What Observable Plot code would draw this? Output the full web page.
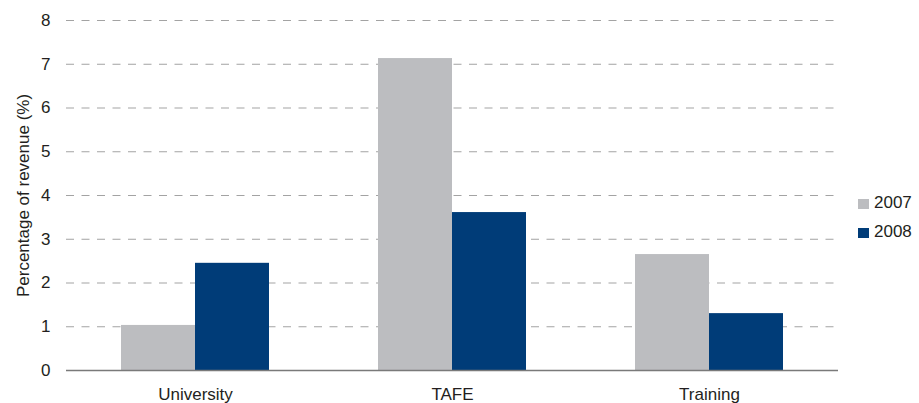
<!DOCTYPE html>
<html>
<head>
<meta charset="utf-8">
<script src="https://cdn.jsdelivr.net/npm/d3@7"></script>
<script src="https://cdn.jsdelivr.net/npm/@observablehq/plot@0.6"></script>
<style>
  html, body { margin: 0; padding: 0; background: #fff; }
  #chart { position: relative; width: 919px; height: 403px; font-family: "Liberation Sans", Arial, sans-serif; }
  #chart svg { display: block; }
  .key { position: absolute; left: 858px; font-size: 17px; line-height: 17px; color: #231f20; white-space: nowrap; }
  .key span.sw { position: absolute; left: 0; width: 11px; height: 10px; }
  .key span.lb { position: absolute; left: 16px; top: 0; }
</style>
</head>
<body>
<div id="chart"></div>
<script>
// Sector groups along the x axis
const sectors = ["University", "TAFE", "Training"];
// Years compared within each sector
const years = ["2007", "2008"];
// Percentage of revenue, one value per sector for each year
const values2007 = [1.03, 7.13, 2.65];
const values2008 = [2.45, 3.61, 1.30];
// Y axis ticks
const yTicks = [0, 1, 2, 3, 4, 5, 6, 7, 8];
const yGrid = [1, 2, 3, 4, 5, 6, 7, 8];

const rows2007 = sectors.map((s, i) => ({sector: s, year: years[0], value: values2007[i]}));
const rows2008 = sectors.map((s, i) => ({sector: s, year: years[1], value: values2008[i]}));

// Each sector band holds two side-by-side bars: the first year fills the
// left half of the band, the second year the right half.
const halfBand = 74;

const chart = Plot.plot({
  width: 919,
  height: 403,
  marginLeft: 66,
  marginRight: 81,
  marginTop: 20,
  marginBottom: 33,
  style: {fontFamily: "Liberation Sans, Arial, sans-serif", fontSize: "17px", color: "#231f20", background: "#fff"},
  x: {domain: sectors, paddingInner: 0.424, paddingOuter: 0.212, label: null},
  y: {domain: [0, 8]},
  color: {domain: years, range: ["#bcbdc0", "#003c78"]},
  marks: [
    Plot.gridY(yGrid, {stroke: "#a3a3a3", strokeOpacity: 1, strokeWidth: 1, strokeDasharray: "8,7.5"}),
    Plot.barY(rows2007, {x: "sector", y: "value", fill: "year", insetLeft: 0, insetRight: halfBand}),
    Plot.barY(rows2008, {x: "sector", y: "value", fill: "year", insetLeft: halfBand, insetRight: 0}),
    Plot.ruleY([0], {stroke: "#7a7a7a", strokeWidth: 1.5}),
    Plot.axisY(yTicks, {tickSize: 0, tickPadding: 16, label: "Percentage of revenue (%)", labelAnchor: "center", labelArrow: "none", labelOffset: 50, fontSize: 17}),
    Plot.axisX({tickSize: 0, tickPadding: 17, label: null, fontSize: 17})
  ]
});

const host = document.getElementById("chart");
host.appendChild(chart);

// Legend built from the plot's own color scale
const color = chart.scale("color");
color.domain.forEach((d, i) => {
  const row = document.createElement("div");
  row.className = "key";
  row.style.top = (194 + i * 29) + "px";
  const sw = document.createElement("span");
  sw.className = "sw";
  sw.style.top = "5px";
  sw.style.background = color.range[i];
  const lb = document.createElement("span");
  lb.className = "lb";
  lb.textContent = d;
  row.appendChild(sw);
  row.appendChild(lb);
  host.appendChild(row);
});
</script>
</body>
</html>
